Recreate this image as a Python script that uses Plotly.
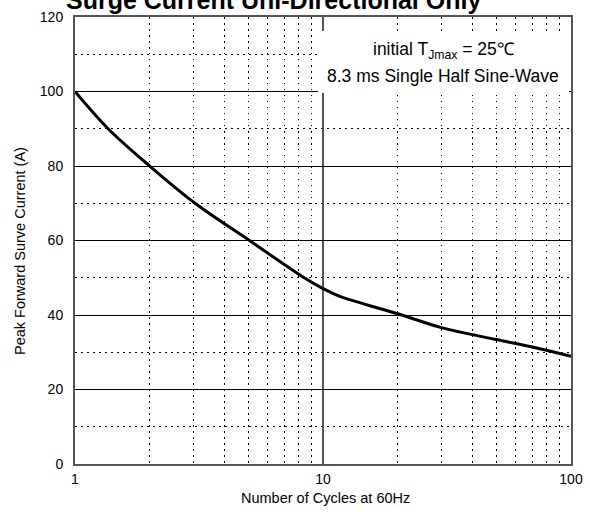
import plotly.graph_objects as go

# ---- data ----
cycles = [1, 1.36, 2, 3.05, 5.05, 8.4, 10, 11.7, 20.8, 30, 50, 70, 100]
current = [100, 90, 80, 70, 60, 50, 47.1, 45, 40, 36.6, 33.4, 31.4, 28.9]

x_major_ticks = [1, 10, 100]
x_minor_ticks = [2, 3, 4, 5, 6, 7, 8, 9, 20, 30, 40, 50, 60, 70, 80, 90]
y_range = [0, 120]

title_text = "Surge Current Uni-Directional Only"
x_title = "Number of Cycles at 60Hz"
y_title = "Peak Forward Surve Current (A)"
note_line1 = "initial T<sub>Jmax</sub> = 25\u2103"
note_line2 = "8.3 ms Single Half Sine-Wave"

FONT = "Liberation Sans, Arial, sans-serif"
PLOT_TOP, PLOT_BOTTOM, PLOT_LEFT, PLOT_W = 17, 464, 75, 496


def py(p):
    return (PLOT_BOTTOM - p) / (PLOT_BOTTOM - PLOT_TOP)


def px(p):
    return (p - PLOT_LEFT) / PLOT_W


fig = go.Figure()
fig.add_trace(go.Scatter(
    x=cycles, y=current, mode="lines",
    line=dict(color="black", width=3, shape="spline", smoothing=1.0),
    hoverinfo="skip", showlegend=False,
))

fig.update_xaxes(
    type="log", range=[0, 2], automargin=False,
    tickmode="array", tickvals=x_major_ticks, ticktext=[str(v) for v in x_major_ticks],
    showgrid=True, gridcolor="#555555", gridwidth=2,
    minor=dict(tickmode="array", tickvals=x_minor_ticks, showgrid=True,
               gridcolor="black", gridwidth=1, griddash="1.5px,4.5px", ticks=""),
    showline=True, linecolor="#555555", linewidth=2, mirror=True,
    ticks="", ticklabelstandoff=1,
    tickfont=dict(family=FONT, size=14, color="black"),
    zeroline=False,
)
fig.update_yaxes(
    range=y_range, dtick=20, tick0=0, automargin=False,
    showgrid=True, gridcolor="black", gridwidth=1,
    minor=dict(dtick=10, showgrid=True, gridcolor="black", gridwidth=1,
               griddash="1.5px,4.5px", ticks=""),
    showline=True, linecolor="#555555", linewidth=2, mirror=True,
    ticks="", ticklabelstandoff=7,
    tickfont=dict(family=FONT, size=14, color="black"),
    zeroline=False,
)

# white background of the note box
fig.add_shape(type="rect", xref="paper", yref="paper",
              x0=0.49, x1=0.996, y0=0.83, y1=0.9687,
              fillcolor="white", line=dict(width=0), layer="above")

fig.add_annotation(text=note_line1, xref="paper", yref="paper",
                   x=px(443), y=py(50), xanchor="center", yanchor="middle",
                   showarrow=False, font=dict(family=FONT, size=17.5, color="black"))
fig.add_annotation(text=note_line2, xref="paper", yref="paper",
                   x=px(443), y=py(76), xanchor="center", yanchor="middle",
                   showarrow=False, font=dict(family=FONT, size=17.5, color="black"))

# axis titles
fig.add_annotation(text=x_title, xref="paper", yref="paper",
                   x=px(325), y=py(498), xanchor="center", yanchor="middle",
                   showarrow=False, font=dict(family=FONT, size=14.5, color="black"))
fig.add_annotation(text=y_title, xref="paper", yref="paper", textangle=-90,
                   x=px(20), y=py(251), xanchor="center", yanchor="middle",
                   showarrow=False, font=dict(family=FONT, size=14.5, color="black"))

# chart title (cut off at the top, as in the reference)
fig.add_annotation(text="<b>" + title_text + "</b>", xref="paper", yref="paper",
                   x=px(273), y=py(0), xanchor="center", yanchor="middle",
                   showarrow=False, font=dict(family=FONT, size=25, color="black"))

fig.update_layout(
    width=590, height=515,
    margin=dict(l=75, r=19, t=17, b=51),
    paper_bgcolor="white", plot_bgcolor="white",
    showlegend=False,
)

fig.write_html("out.html", config={"displayModeBar": False},
               post_script="document.body.style.margin='0';")
